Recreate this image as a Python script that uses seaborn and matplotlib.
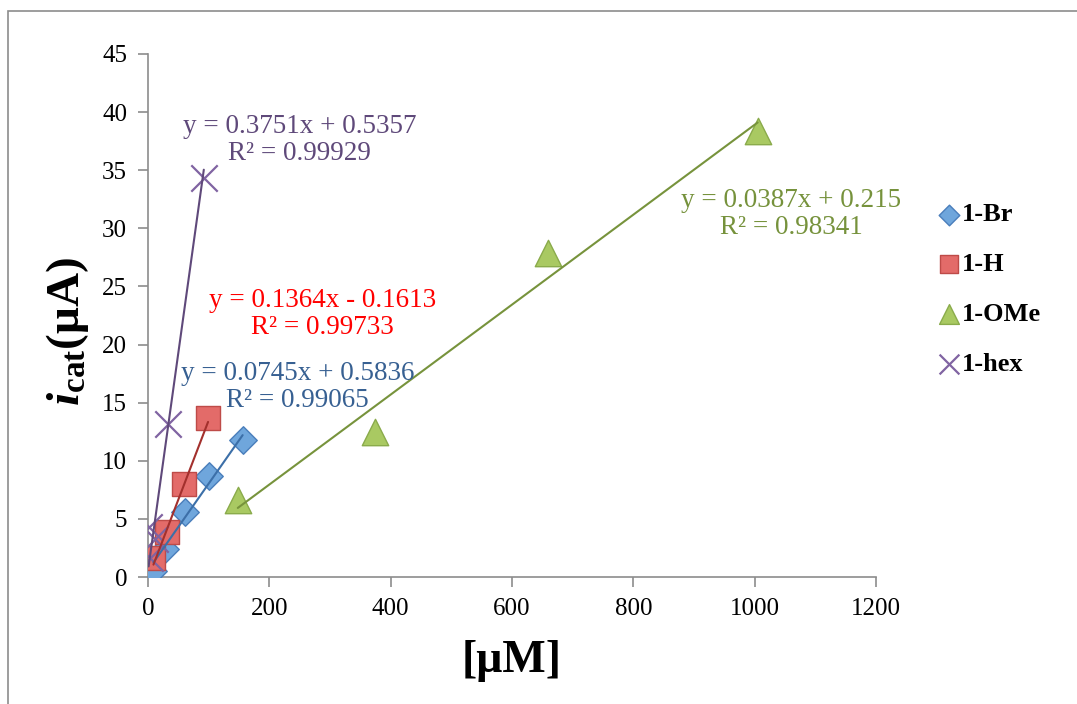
import numpy as np
import pandas as pd
import matplotlib
matplotlib.use("Agg")
import matplotlib.pyplot as plt
import seaborn as sns
from matplotlib.patches import Rectangle

# ---- data ----
br_x = [9, 28, 61, 101, 156]
br_y = [0.5, 2.4, 5.6, 8.7, 11.8]
h_x = [9, 31, 59, 99]
h_y = [1.6, 3.9, 8.0, 13.7]
ome_x = [148, 374, 659, 1005]
ome_y = [6.6, 12.5, 27.9, 38.4]
hex_x = [1, 4, 11, 33, 92]
hex_y = [4.3, 1.6, 3.3, 13.2, 34.3]

series_names = ["1-Br", "1-H", "1-OMe", "1-hex"]
slopes = [0.0745, 0.1364, 0.0387, 0.3751]
intercepts = [0.5836, -0.1613, 0.215, 0.5357]
eq_texts = ["y = 0.0745x + 0.5836\nR² = 0.99065",
            "y = 0.1364x - 0.1613\nR² = 0.99733",
            "y = 0.0387x + 0.215\nR² = 0.98341",
            "y = 0.3751x + 0.5357\nR² = 0.99929"]

x_ticks = [0, 200, 400, 600, 800, 1000, 1200]
y_ticks = [0, 5, 10, 15, 20, 25, 30, 35, 40, 45]

sns.set_theme(style="white")
plt.rcParams['font.family'] = ['Liberation Serif', 'DejaVu Serif']
plt.rcParams['mathtext.fontset'] = 'custom'
plt.rcParams['mathtext.rm'] = 'Liberation Serif'
plt.rcParams['mathtext.it'] = 'Liberation Serif:italic'
plt.rcParams['mathtext.bf'] = 'Liberation Serif:bold'
plt.rcParams['mathtext.bfit'] = 'Liberation Serif:italic:bold'
plt.rcParams['text.color'] = 'black'
plt.rcParams['axes.labelcolor'] = 'black'
plt.rcParams['xtick.color'] = 'black'
plt.rcParams['ytick.color'] = 'black'

fig = plt.figure(figsize=(10.77, 7.04), dpi=100)
ax = fig.add_axes([148/1077, 1-577/704, (876-148)/1077, (577-54)/704])

# outer chart frame
fig.patches.append(Rectangle((8/1077, -0.1), 1.2, 0.1 + (1 - 11/704), transform=fig.transFigure,
                             fill=False, edgecolor='#8c8c8c', linewidth=1.2, zorder=0))

xs = [br_x, h_x, ome_x, hex_x]
ys = [br_y, h_y, ome_y, hex_y]
markers = ['D', 's', '^', 'x']
sizes = [14**2, 17**2, 19**2, 19**2]
fills = ['#6fa6dc', '#e36b69', '#a9c962', '#8064a2']
edges = ['#4a7ebb', '#be4b48', '#8aab4b', '#8064a2']
line_cols = ['#3c6fa8', '#a3302d', '#77933c', '#5f497a']
txt_cols = ['#376092', '#ff0000', '#76923c', '#5f497a']
txt_pos = [(247, 16.35), (287, 22.6), (1060, 31.2), (250, 37.6)]

for i in range(4):
    df = pd.DataFrame({'x': xs[i], 'y': ys[i]})
    if markers[i] == 'x':
        sns.scatterplot(data=df, x='x', y='y', ax=ax, marker='x', s=sizes[i],
                        color=fills[i], linewidth=1.6, label=series_names[i], zorder=3)
    else:
        sns.scatterplot(data=df, x='x', y='y', ax=ax, marker=markers[i], s=sizes[i],
                        color=fills[i], edgecolor=edges[i], linewidth=1.0,
                        label=series_names[i], zorder=3)

for i in range(4):
    lx = np.array([min(xs[i]), max(xs[i])], dtype=float)
    ly = slopes[i] * lx + intercepts[i]
    sns.lineplot(x=lx, y=ly, ax=ax, color=line_cols[i], linewidth=1.5, zorder=4,
                 legend=False)
    ax.text(txt_pos[i][0], txt_pos[i][1], eq_texts[i], color=txt_cols[i], fontsize=19.5,
            ha='center', va='center', linespacing=1.1, zorder=5)

ax.set_xlim(0, 1200)
ax.set_ylim(0, 45)
ax.set_xticks(x_ticks)
ax.set_yticks(y_ticks)
ax.tick_params(axis='both', which='both', direction='out', length=7, width=1.2,
               color='#8c8c8c', labelcolor='black', labelsize=18, pad=8, left=True, bottom=True)
for s in ['top', 'right']:
    ax.spines[s].set_visible(False)
for s in ['left', 'bottom']:
    ax.spines[s].set_color('#8c8c8c')
    ax.spines[s].set_linewidth(1.2)

ax.set_xlabel('[μM]', fontsize=33, fontweight='bold', color='black')
ax.xaxis.set_label_coords(0.5, -0.12)
ax.set_ylabel(r'$\mathbfit{i}_{\mathbf{cat}}$(μA)', fontsize=34, fontweight='bold', color='black')
ax.yaxis.set_label_coords(-0.078, 0.47)

handles, labels = ax.get_legend_handles_labels()
if ax.legend_:
    ax.legend_.remove()
fig.legend(handles, labels, loc='upper left', bbox_to_anchor=(939/1077, 1-203/704),
           frameon=False, prop={'family': 'Liberation Serif', 'weight': 'bold', 'size': 19},
           handletextpad=0.1, labelspacing=1.0, markerscale=0.75, handlelength=0.75,
           borderpad=0, borderaxespad=0)

fig.savefig('out.png', dpi=100)
